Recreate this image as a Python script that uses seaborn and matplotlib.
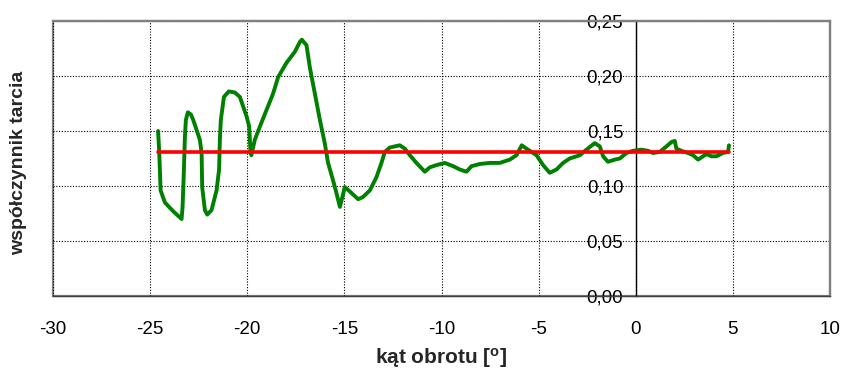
import matplotlib
matplotlib.use("Agg")
import matplotlib.pyplot as plt
import seaborn as sns
import pandas as pd
from matplotlib.ticker import FuncFormatter

# measured friction coefficient vs rotation angle (trace, in recording order)
angle = [-24.59, -24.53, -24.46, -24.24, -23.81, -23.38, -23.33, -23.26, -23.21, -23.16,
         -23.06, -22.90, -22.78, -22.44, -22.35, -22.32, -22.18, -22.06, -21.84, -21.58,
         -21.45, -21.41, -21.36, -21.20, -20.95, -20.64, -20.38, -20.03, -19.90, -19.83,
         -19.79, -19.61, -19.35, -19.01, -18.67, -18.41, -17.98, -17.55, -17.29, -17.19,
         -16.95, -16.78, -16.52, -16.26, -16.01, -15.84, -15.58, -15.40, -15.23, -15.06,
         -14.98, -14.72, -14.29, -14.04, -13.69, -13.35, -13.09, -12.92, -12.66, -12.15,
         -11.89, -11.63, -11.29, -10.86, -10.60, -10.26, -9.83, -9.40, -9.06, -8.71,
         -8.46, -8.03, -7.51, -7.00, -6.48, -6.14, -5.87, -5.63, -5.46, -5.11,
         -4.77, -4.43, -4.08, -3.74, -3.40, -2.88, -2.54, -2.11, -1.85, -1.68,
         -1.43, -1.08, -0.82, -0.48, -0.14, 0.29, 0.63, 0.89, 1.24, 1.58,
         1.84, 2.01, 2.09, 2.35, 2.69, 2.95, 3.21, 3.46, 3.64, 3.90,
         4.15, 4.49, 4.75, 4.80]
friction = [0.150, 0.130, 0.096, 0.085, 0.077, 0.070, 0.081, 0.115, 0.145, 0.160,
            0.167, 0.165, 0.160, 0.142, 0.130, 0.099, 0.078, 0.074, 0.078, 0.096,
            0.115, 0.142, 0.160, 0.181, 0.186, 0.185, 0.181, 0.163, 0.154, 0.130,
            0.128, 0.142, 0.154, 0.169, 0.184, 0.199, 0.212, 0.222, 0.231, 0.233,
            0.228, 0.208, 0.184, 0.160, 0.139, 0.121, 0.105, 0.093, 0.081, 0.093,
            0.099, 0.095, 0.088, 0.090, 0.096, 0.108, 0.121, 0.131, 0.135, 0.137,
            0.134, 0.128, 0.121, 0.113, 0.117, 0.119, 0.121, 0.118, 0.115, 0.113,
            0.118, 0.120, 0.121, 0.121, 0.124, 0.128, 0.137, 0.134, 0.132, 0.128,
            0.119, 0.112, 0.115, 0.121, 0.125, 0.128, 0.133, 0.139, 0.136, 0.127,
            0.122, 0.124, 0.125, 0.130, 0.132, 0.133, 0.132, 0.130, 0.131, 0.136,
            0.140, 0.141, 0.134, 0.132, 0.130, 0.128, 0.124, 0.127, 0.129, 0.127,
            0.127, 0.130, 0.131, 0.137]

# mean friction coefficient line
mean_angle = [-24.6, 4.8]
mean_friction = [0.131, 0.131]

x_ticks = [-30, -25, -20, -15, -10, -5, 0, 5, 10]
y_ticks = [0.00, 0.05, 0.10, 0.15, 0.20, 0.25]

sns.set_style("white")
plt.rcParams['font.family'] = ['Liberation Sans', 'DejaVu Sans']
plt.rcParams['mathtext.fontset'] = 'custom'
plt.rcParams['mathtext.rm'] = 'Liberation Sans'
plt.rcParams['mathtext.bf'] = 'Liberation Sans:bold'

fig = plt.figure(figsize=(8.42, 3.75), dpi=100)
ax = fig.add_axes([53 / 842, 79 / 375, 777 / 842, 275 / 375])

trace = pd.DataFrame({"angle": angle, "friction": friction})
mean_df = pd.DataFrame({"angle": mean_angle, "friction": mean_friction})

sns.lineplot(data=trace, x="angle", y="friction", sort=False, estimator=None,
             color="#008000", linewidth=2.8, ax=ax, zorder=3,
             solid_joinstyle='round', solid_capstyle='round')
sns.lineplot(data=mean_df, x="angle", y="friction", sort=False, estimator=None,
             color="#FF0000", linewidth=2.6, ax=ax, zorder=4)

ax.set_xlim(x_ticks[0], x_ticks[-1])
ax.set_ylim(y_ticks[0], y_ticks[-1])
ax.set_xticks(x_ticks)
ax.set_yticks(y_ticks)
ax.yaxis.set_major_formatter(FuncFormatter(lambda v, p: f"{v:.2f}".replace('.', ',')))
ax.xaxis.set_major_formatter(FuncFormatter(lambda v, p: f"{v:g}"))

ax.grid(True, color="black", linestyle=(0, (1, 1.5)), linewidth=0.8, zorder=1)
ax.set_axisbelow(True)

# y axis crosses at x = 0
ax.spines['left'].set_position(('data', 0))
ax.spines['left'].set_color('black')
ax.spines['left'].set_linewidth(1.0)
ax.spines['left'].set_zorder(2)
ax.spines['bottom'].set_color('#404040')
ax.spines['bottom'].set_linewidth(1.0)
for s in ['top', 'right']:
    ax.spines[s].set_color('#808080')
    ax.spines[s].set_linewidth(1.6)
ax.patch.set_edgecolor('#808080')
ax.patch.set_linewidth(1.6)

ax.tick_params(axis='both', direction='out', length=6, width=1, color='black',
               labelsize=13.5, labelcolor='black')
ax.tick_params(axis='y', pad=3)
ax.tick_params(axis='x', pad=12)

ax.set_xlabel(r"kąt obrotu [$\mathbf{^{o}}$]", fontsize=15, fontweight='bold', labelpad=6)
ax.set_ylabel("współczynnik tarcia", fontsize=14, fontweight='bold')
ax.yaxis.set_label_coords(-0.033, 0.485)

fig.savefig("out.png", dpi=100)
